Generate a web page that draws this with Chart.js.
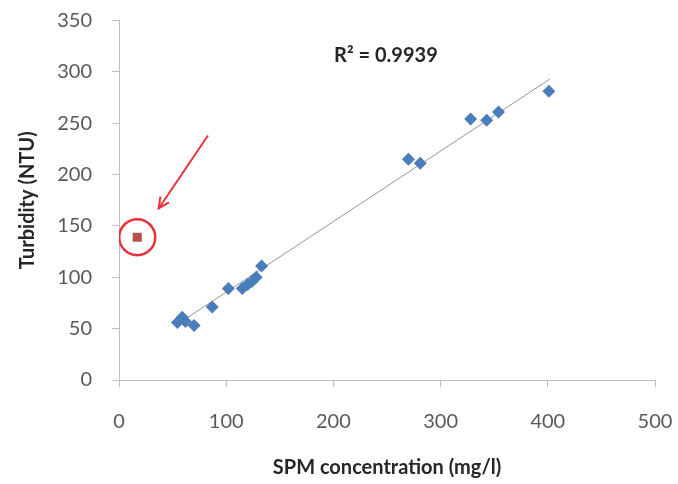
<!DOCTYPE html>
<html lang="en">
<head>
    <meta charset="UTF-8">
    <title>Turbidity vs SPM</title>
    <script src="https://cdn.jsdelivr.net/npm/chart.js"></script>
    <style>
        html, body { margin: 0; padding: 0; background: #fff; }
        .chart-container { width: 678px; height: 484px; position: relative; }
    </style>
</head>
<body>
    <div class="chart-container">
        <canvas id="myChart"></canvas>
    </div>

    <script>
        // SPM (mg/l) och turbiditet (NTU)
        const spm = [54.5, 59, 62, 70, 87, 102, 115, 120, 124, 128, 133, 270, 281, 328, 343, 354, 401];
        const turbidity = [56, 61, 57, 53, 71, 89, 89, 93, 96, 100, 111, 215, 211, 254, 253, 261, 281];

        // avvikande punkt (inringad)
        const outlierSpm = [17];
        const outlierTurbidity = [139];

        // trendlinjens ändpunkter
        const trendSpm = [54, 402];
        const trendTurbidity = [54, 293];

        // pil mot avvikaren: start, slut
        const arrowSpm = [83, 37];
        const arrowTurbidity = [238, 167];

        const r2Label = 'R\u00B2 = 0.9939';
        const r2Pos = [249, 316];

        const xTicks = [0, 100, 200, 300, 400, 500];
        const yTicks = [0, 50, 100, 150, 200, 250, 300, 350];

        const font = "Lato, 'Open Sans', sans-serif";
        const toXY = (xs, ys) => xs.map((x, i) => ({ x: x, y: ys[i] }));

        const annotations = {
            id: 'annotations',
            afterDatasetsDraw(chart) {
                const c = chart.ctx, xs = chart.scales.x, ys = chart.scales.y;
                const x1 = xs.getPixelForValue(arrowSpm[0]), y1 = ys.getPixelForValue(arrowTurbidity[0]);
                const x2 = xs.getPixelForValue(arrowSpm[1]), y2 = ys.getPixelForValue(arrowTurbidity[1]);
                c.save();
                c.strokeStyle = '#E8313B';
                c.lineWidth = 2;
                c.beginPath();
                c.moveTo(x1, y1);
                c.lineTo(x2, y2);
                c.stroke();
                const a = Math.atan2(y2 - y1, x2 - x1);
                c.beginPath();
                c.moveTo(x2 - 12 * Math.cos(a - 0.45), y2 - 12 * Math.sin(a - 0.45));
                c.lineTo(x2, y2);
                c.lineTo(x2 - 12 * Math.cos(a + 0.45), y2 - 12 * Math.sin(a + 0.45));
                c.stroke();

                c.fillStyle = '#262626';
                c.font = 'bold 20px ' + font;
                c.textAlign = 'center';
                c.textBaseline = 'middle';
                c.fillText(r2Label, xs.getPixelForValue(r2Pos[0]), ys.getPixelForValue(r2Pos[1]));
                c.restore();
            }
        };

        // nolla etikettpaddingen så att layout.padding styr plotytan
        const noPad = s => { s.paddingLeft = 0; s.paddingRight = 0; s.paddingTop = 0; s.paddingBottom = 0; };

        const axisBase = {
            type: 'linear',
            border: { display: true, color: '#BFBFBF', width: 1 },
            grid: { display: true, drawOnChartArea: false, drawTicks: true, tickLength: 7, color: '#BFBFBF' },
            title: { display: true, color: '#262626', font: { family: font, size: 20, weight: 'bold' } }
        };

        const ctx = document.getElementById('myChart').getContext('2d');
        const chart = new Chart(ctx, {
            type: 'scatter',
            data: {
                datasets: [
                    {
                        label: 'Trend',
                        data: toXY(trendSpm, trendTurbidity),
                        showLine: true,
                        borderColor: '#969696',
                        borderWidth: 1,
                        pointRadius: 0,
                        order: 3
                    },
                    {
                        label: 'SPM',
                        data: toXY(spm, turbidity),
                        pointStyle: 'rectRot',
                        pointRadius: 6.5,
                        backgroundColor: '#4A7EBB',
                        borderColor: '#4A7EBB',
                        borderWidth: 0,
                        order: 1
                    },
                    {
                        label: 'Outlier',
                        data: toXY(outlierSpm, outlierTurbidity),
                        pointStyle: 'rect',
                        pointRadius: 6.5,
                        backgroundColor: '#B5524F',
                        borderColor: '#B5524F',
                        borderWidth: 0,
                        order: 1
                    },
                    {
                        label: 'Ring',
                        data: toXY(outlierSpm, outlierTurbidity),
                        pointStyle: 'circle',
                        pointRadius: 18,
                        backgroundColor: 'rgba(0,0,0,0)',
                        borderColor: '#E8313B',
                        borderWidth: 2.5,
                        order: 0
                    }
                ]
            },
            options: {
                responsive: true,
                maintainAspectRatio: false,
                animation: false,
                layout: { padding: { top: 20, right: 23, left: 0, bottom: 0 } },
                plugins: {
                    legend: { display: false },
                    tooltip: { enabled: false }
                },
                scales: {
                    x: {
                        ...axisBase,
                        min: 0, max: 500,
                        afterBuildTicks: s => { s.ticks = xTicks.map(v => ({ value: v })); },
                        afterFit: s => { s.height = 104; noPad(s); },
                        ticks: { color: '#595959', padding: 23, font: { family: font, size: 20 } },
                        title: { ...axisBase.title, text: 'SPM concentration (mg/l)', padding: { top: 7 } }
                    },
                    y: {
                        ...axisBase,
                        min: 0, max: 350,
                        afterBuildTicks: s => { s.ticks = yTicks.map(v => ({ value: v })); },
                        afterFit: s => { s.width = 119; noPad(s); },
                        ticks: { color: '#595959', padding: 20, font: { family: font, size: 20 } },
                        title: { ...axisBase.title, text: 'Turbidity (NTU)', padding: { top: 16, bottom: 0 } }
                    }
                }
            },
            plugins: [annotations]
        });
    </script>
</body>
</html>
